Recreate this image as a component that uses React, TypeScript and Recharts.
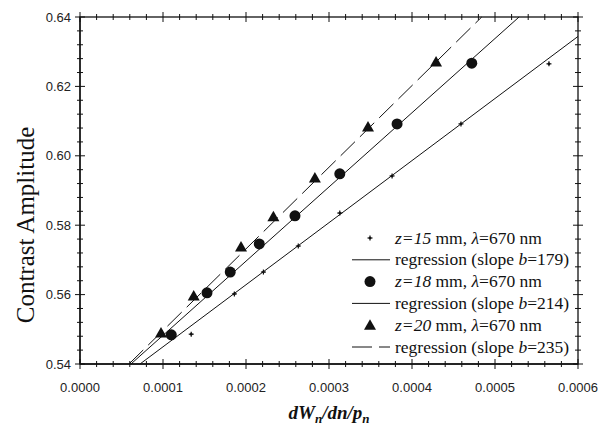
import React from 'react';
import { ComposedChart, Scatter, Line, XAxis, YAxis } from 'recharts';

// z = 15 mm measurements
const z15X = [0.000134, 0.000186, 0.000221, 0.000263, 0.000313, 0.000376, 0.000459, 0.000565];
const z15Y = [0.5486, 0.5602, 0.5665, 0.574, 0.5835, 0.5942, 0.6092, 0.6265];
// z = 18 mm measurements
const z18X = [0.00011, 0.000153, 0.000181, 0.000216, 0.000259, 0.000313, 0.000382, 0.000472];
const z18Y = [0.5484, 0.5605, 0.5665, 0.5746, 0.5827, 0.5948, 0.6092, 0.6267];
// z = 20 mm measurements
const z20X = [0.0000976, 0.000137, 0.000194, 0.000233, 0.000283, 0.000347, 0.000429];
const z20Y = [0.5489, 0.5596, 0.5737, 0.5824, 0.5936, 0.6083, 0.627];

// regression lines (end points)
const reg15X = [0.0000723, 0.0006];
const reg15Y = [0.54, 0.6344];
const reg18X = [0.0000614, 0.000529];
const reg18Y = [0.54, 0.64];
const reg20X = [0.000059, 0.000484];
const reg20Y = [0.54, 0.64];

const zValues = ['15', '18', '20'];
const slopes = ['179', '214', '235'];
const wavelength = '670';

const X_MIN = 0;
const X_MAX = 0.0006;
const Y_MIN = 0.54;
const Y_MAX = 0.64;

const xTicks = [
  0, 0.00002, 0.00004, 0.00006, 0.00008, 0.0001, 0.00012, 0.00014, 0.00016, 0.00018,
  0.0002, 0.00022, 0.00024, 0.00026, 0.00028, 0.0003, 0.00032, 0.00034, 0.00036, 0.00038,
  0.0004, 0.00042, 0.00044, 0.00046, 0.00048, 0.0005, 0.00052, 0.00054, 0.00056, 0.00058, 0.0006,
];
const yTicks = [
  0.54, 0.544, 0.548, 0.552, 0.556, 0.56, 0.564, 0.568, 0.572, 0.576, 0.58, 0.584, 0.588,
  0.592, 0.596, 0.6, 0.604, 0.608, 0.612, 0.616, 0.62, 0.624, 0.628, 0.632, 0.636, 0.64,
];

const pts = (xs: number[], ys: number[]) => xs.map((x, i) => ({ x, y: ys[i] }));
const isMajor = (v: number, step: number) => Math.abs(v / step - Math.round(v / step)) < 1e-6;
const majorX = xTicks.filter((v) => isMajor(v, 0.0001));
const majorY = yTicks.filter((v) => isMajor(v, 0.02));

// chart box
const W = 600;
const H = 430;
const M_TOP = 17;
const M_RIGHT = 22;
const Y_AXIS_W = 80;
const X_AXIS_H = 66;
const PLOT = { left: Y_AXIS_W, top: M_TOP, right: W - M_RIGHT, bottom: H - X_AXIS_H };

const INK = '#111';
const SERIF = '"Liberation Serif", "Times New Roman", serif';
const SANS = '"Liberation Sans", Arial, sans-serif';

const PlusMark = ({ cx, cy }: any) => (
  <g>
    <line x1={cx - 2.5} x2={cx + 2.5} y1={cy} y2={cy} stroke={INK} strokeWidth={1.2} />
    <line x1={cx} x2={cx} y1={cy - 2.5} y2={cy + 2.5} stroke={INK} strokeWidth={1.2} />
    <circle cx={cx} cy={cy} r={1.3} fill={INK} />
  </g>
);
const CircleMark = ({ cx, cy }: any) => <circle cx={cx} cy={cy} r={5.5} fill={INK} />;
const TriangleMark = ({ cx, cy }: any) => (
  <polygon points={`${cx},${cy - 6} ${cx - 6},${cy + 4.5} ${cx + 6},${cy + 4.5}`} fill={INK} />
);

const marks = [PlusMark, CircleMark, TriangleMark];
const dashes = [undefined, undefined, '20 7'];

// frame with crossing tick marks on all four sides
const Frame = () => {
  const px = (v: number) => PLOT.left + ((v - X_MIN) / (X_MAX - X_MIN)) * (PLOT.right - PLOT.left);
  const py = (v: number) => PLOT.bottom - ((v - Y_MIN) / (Y_MAX - Y_MIN)) * (PLOT.bottom - PLOT.top);
  return (
    <g stroke={INK} fill="none">
      <rect x={PLOT.left} y={PLOT.top} width={PLOT.right - PLOT.left} height={PLOT.bottom - PLOT.top} strokeWidth={1.3} />
      {xTicks.map((v) => {
        const x = px(v);
        const len = isMajor(v, 0.0001) ? 5 : 3;
        return (
          <g key={`x${v}`} strokeWidth={1}>
            <line x1={x} x2={x} y1={PLOT.bottom - len} y2={PLOT.bottom + len} />
            <line x1={x} x2={x} y1={PLOT.top - len} y2={PLOT.top + len} />
          </g>
        );
      })}
      {yTicks.map((v) => {
        const y = py(v);
        const len = isMajor(v, 0.02) ? 5 : 3;
        return (
          <g key={`y${v}`} strokeWidth={1}>
            <line x1={PLOT.left - len} x2={PLOT.left + len} y1={y} y2={y} />
            <line x1={PLOT.right - len} x2={PLOT.right + len} y1={y} y2={y} />
          </g>
        );
      })}
    </g>
  );
};

// legend, frame and axis titles, drawn over the chart
const Overlay = () => {
  const step = 21.8;
  return (
    <svg width={W} height={H} style={{ position: 'absolute', left: 0, top: 0, pointerEvents: 'none' }}>
      <Frame />
      <g transform="translate(345,226)">
        {zValues.map((z, i) => {
          const y1 = 12 + 2 * i * step;
          const y2 = y1 + step;
          const Mark = marks[i];
          return (
            <g key={z}>
              <Mark cx={25} cy={y1} />
              <text x={50} y={y1 + 5.5} fontSize={17.5} fontFamily={SERIF} fill="#111">
                <tspan fontStyle="italic">z=</tspan>
                <tspan fontStyle="italic">{z}</tspan> mm, <tspan fontStyle="italic">λ</tspan>={wavelength} nm
              </text>
              <line x1={7} x2={45} y1={y2} y2={y2} stroke={INK} strokeWidth={1} strokeDasharray={dashes[i]} />
              <text x={50} y={y2 + 5.5} fontSize={17.5} fontFamily={SERIF} fill="#111">
                regression (slope <tspan fontStyle="italic">b</tspan>={slopes[i]})
              </text>
            </g>
          );
        })}
      </g>
      <text x={329} y={419} textAnchor="middle" fontSize={19} fontFamily={SERIF} fontWeight="bold" fontStyle="italic" fill="#111">
        dW<tspan dy={4} fontSize={13}>n</tspan>
        <tspan dy={-4}>/dn/p</tspan>
        <tspan dy={4} fontSize={13}>n</tspan>
      </text>
      <text x={25} y={225} transform="rotate(-90, 25, 225)" textAnchor="middle" dominantBaseline="central" fontSize={25} fontFamily={SERIF} fill="#111">
        Contrast Amplitude
      </text>
    </svg>
  );
};

const tickStyle = { fill: '#222', fontSize: 13, fontFamily: SANS };
const axisLineStyle = { stroke: INK, strokeWidth: 1.3 };

export default function App() {
  return (
    <div style={{ position: 'absolute', left: 0, top: 0, width: W, height: H, background: '#fff' }}>
      <ComposedChart width={W} height={H} margin={{ top: M_TOP, right: M_RIGHT, bottom: 0, left: 0 }}>
        <XAxis
          dataKey="x"
          type="number"
          domain={[X_MIN, X_MAX]}
          ticks={majorX}
          interval={0}
          height={X_AXIS_H}
          tickSize={6}
          tickMargin={13}
          tickLine={false}
          tick={tickStyle}
          tickFormatter={(v: number) => v.toFixed(4)}
          axisLine={axisLineStyle}
        />
        <YAxis
          dataKey="y"
          type="number"
          domain={[Y_MIN, Y_MAX]}
          ticks={majorY}
          interval={0}
          width={Y_AXIS_W}
          tickSize={6}
          tickMargin={3}
          tickLine={false}
          tick={tickStyle}
          tickFormatter={(v: number) => v.toFixed(2)}
          axisLine={axisLineStyle}
        />
        <Line data={pts(reg15X, reg15Y)} dataKey="y" stroke={INK} strokeWidth={1} dot={false} isAnimationActive={false} />
        <Line data={pts(reg18X, reg18Y)} dataKey="y" stroke={INK} strokeWidth={1} dot={false} isAnimationActive={false} />
        <Line data={pts(reg20X, reg20Y)} dataKey="y" stroke={INK} strokeWidth={1} strokeDasharray="20 7" dot={false} isAnimationActive={false} />
        <Scatter data={pts(z15X, z15Y)} dataKey="y" shape={<PlusMark />} isAnimationActive={false} />
        <Scatter data={pts(z18X, z18Y)} dataKey="y" shape={<CircleMark />} isAnimationActive={false} />
        <Scatter data={pts(z20X, z20Y)} dataKey="y" shape={<TriangleMark />} isAnimationActive={false} />
      </ComposedChart>
      <Overlay />
    </div>
  );
}
